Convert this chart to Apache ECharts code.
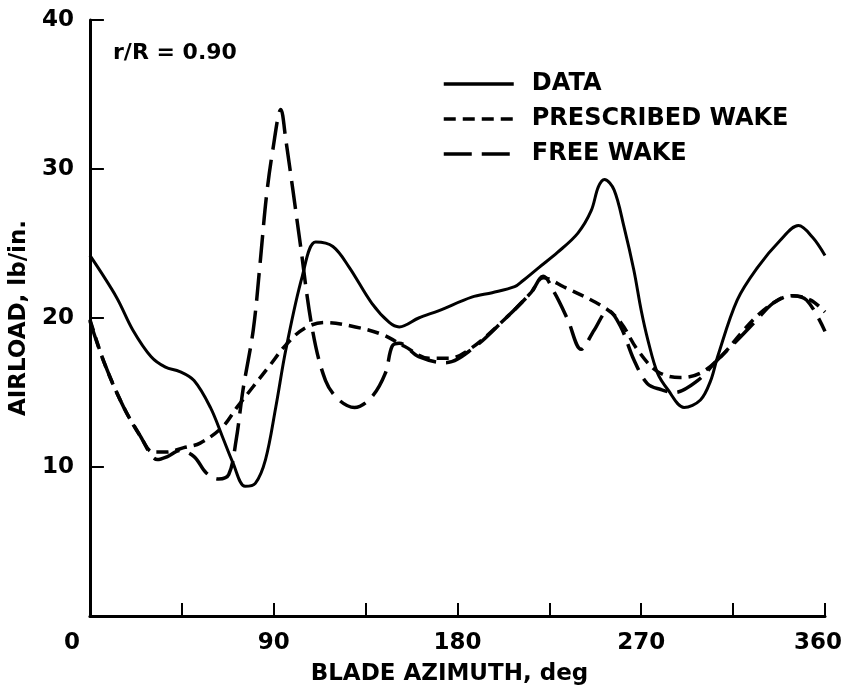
<!DOCTYPE html>
<html>
<head>
<meta charset="utf-8">
<script src="https://cdn.jsdelivr.net/npm/echarts@6/dist/echarts.min.js"></script>
<style>
html,body{margin:0;padding:0;background:#fff;}
#chart{width:845px;height:692px;}
</style>
</head>
<body>
<div id="chart"></div>
<script>
// Tick labels
var xTicks = [0, 90, 180, 270, 360];
var yTicks = [10, 20, 30, 40];

// DATA (measured)
var dataAz   = [0, 13, 21, 30, 37, 44, 51, 59, 65, 70, 76, 81, 86, 91, 96, 104, 110.6, 119, 127, 138, 146.6, 151.5, 161, 171, 187, 197, 208, 212, 220, 229, 239, 245.5, 249, 252, 256.7, 261.6, 266.4, 270, 273.3, 278, 283, 291, 299, 304, 307.4, 317, 327, 338, 347, 354, 360];
var dataLoad = [24.2, 21.4, 19.2, 17.4, 16.7, 16.4, 15.8, 14.0, 12.0, 10.3, 8.7, 8.9, 10.5, 14.0, 17.9, 22.8, 25.1, 24.8, 23.4, 21.0, 19.7, 19.4, 20.0, 20.5, 21.4, 21.7, 22.1, 22.5, 23.4, 24.4, 25.7, 27.2, 28.8, 29.3, 28.6, 26.1, 23.2, 20.5, 18.5, 16.3, 15.2, 14.0, 14.5, 15.8, 17.4, 21.2, 23.4, 25.2, 26.2, 25.4, 24.2];

// PRESCRIBED WAKE (measured)
var prescAz   = [0, 7, 16.6, 25, 31, 37.5, 46, 54, 65, 72, 80, 88, 96, 105, 115, 130, 143, 154, 166, 176, 187, 203, 216, 222, 232, 252, 260, 268, 278, 289, 299, 309, 319, 328, 337, 344, 353, 360];
var prescLoad = [19.9, 17.0, 14.0, 12.0, 11.0, 11.0, 11.3, 11.6, 12.7, 14.0, 15.4, 16.8, 18.2, 19.3, 19.7, 19.4, 18.9, 18.1, 17.3, 17.3, 18.0, 19.9, 21.7, 22.7, 22.1, 20.7, 19.7, 17.9, 16.4, 16.0, 16.3, 17.4, 19.0, 20.3, 21.2, 21.5, 21.2, 20.4];

// FREE WAKE (measured)
var freeAz   = [0, 7, 16.6, 25, 30, 33, 38, 44, 51, 57, 63, 68, 71.6, 75, 80, 83.3, 86.4, 89.6, 93.5, 96, 99.4, 102.8, 109, 115.4, 122, 129.6, 138, 144.7, 148, 151.5, 161, 174, 187, 203, 216, 222, 227.5, 234, 240.6, 247, 253.8, 260, 266.4, 273, 279.6, 286, 297.6, 307.4, 317, 326.8, 334.6, 343, 351, 360];
var freeLoad = [19.8, 17.0, 14.0, 12.0, 10.8, 10.5, 10.7, 11.1, 10.7, 9.6, 9.2, 9.5, 11.8, 15.2, 19.2, 23.6, 28.1, 31.3, 34.0, 31.9, 28.6, 25.2, 19.2, 15.8, 14.5, 14.0, 14.7, 16.3, 18.1, 18.3, 17.4, 17.0, 17.9, 19.9, 21.7, 22.8, 21.7, 19.9, 17.9, 19.2, 20.5, 19.4, 17.2, 15.6, 15.2, 15.0, 15.8, 17.2, 18.5, 19.9, 21.0, 21.5, 21.2, 19.1];

function zip(a, b) { return a.map(function (v, i) { return [v, b[i]]; }); }

var FONT = 'DejaVu Sans';
var chart = echarts.init(document.getElementById('chart'), null, {renderer: 'canvas'});
chart.setOption({
  animation: false,
  backgroundColor: '#fff',
  grid: {left: 86, right: 20, top: 20, bottom: 76, containLabel: false},
  xAxis: {
    type: 'value', min: 0, max: 360, interval: 45,
    name: 'BLADE AZIMUTH, deg', nameLocation: 'middle', nameGap: 47,
    nameTextStyle: {fontFamily: FONT, fontWeight: 'bold', fontSize: 23, color: '#000', padding: [0, 16, 0, 0]},
    axisLine: {show: true, lineStyle: {color: '#000', width: 3}},
    axisTick: {show: true, inside: true, length: 13, lineStyle: {color: '#000', width: 2}},
    splitLine: {show: false},
    axisLabel: {
      margin: 16, color: '#000', fontFamily: FONT, fontWeight: 'bold', fontSize: 23,
      formatter: function (v) {
        if (xTicks.indexOf(v) < 0) return '';
        if (v === 0) return '{z|0}';
        if (v === 360) return '{e|360}';
        return String(v);
      },
      rich: {
        z: {fontFamily: FONT, fontWeight: 'bold', fontSize: 23, color: '#000', padding: [0, 36, 0, 0]},
        e: {fontFamily: FONT, fontWeight: 'bold', fontSize: 23, color: '#000', padding: [0, 14, 0, 0]}
      }
    }
  },
  yAxis: {
    type: 'value', min: 0, max: 40, interval: 10,
    name: 'AIRLOAD, lb/in.', nameLocation: 'middle', nameGap: 48,
    nameTextStyle: {fontFamily: FONT, fontWeight: 'bold', fontSize: 23, color: '#000'},
    axisLine: {show: true, lineStyle: {color: '#000', width: 3}},
    axisTick: {show: true, inside: true, length: 14, lineStyle: {color: '#000', width: 2}},
    splitLine: {show: false},
    axisLabel: {
      margin: 16, color: '#000', fontFamily: FONT, fontWeight: 'bold', fontSize: 23,
      padding: [5, 0, 0, 0],
      formatter: function (v) { return yTicks.indexOf(v) >= 0 ? String(v) : ''; }
    }
  },
  legend: {
    orient: 'vertical', left: 442, top: 72, padding: 0,
    itemWidth: 70, itemHeight: 24, itemGap: 11,
    itemStyle: {opacity: 0},
    lineStyle: {width: 3.5},
    textStyle: {fontFamily: FONT, fontWeight: 'bold', fontSize: 24, color: '#000', padding: [0, 0, 0, 13]},
    data: ['DATA', 'PRESCRIBED WAKE', 'FREE WAKE']
  },
  graphic: [{
    type: 'text', left: 113, top: 42,
    style: {text: 'r/R = 0.90', fontFamily: FONT, fontWeight: 'bold', fontSize: 22, fill: '#000'}
  }],
  series: [
    {name: 'DATA', type: 'line', smooth: 0.35, symbol: 'none', data: zip(dataAz, dataLoad),
     lineStyle: {color: '#000', width: 3, type: 'solid'}, itemStyle: {color: '#000'}},
    {name: 'PRESCRIBED WAKE', type: 'line', smooth: 0.35, symbol: 'none', data: zip(prescAz, prescLoad),
     lineStyle: {color: '#000', width: 3.5, type: [12, 7]}, itemStyle: {color: '#000'}},
    {name: 'FREE WAKE', type: 'line', smooth: 0.35, symbol: 'none', data: zip(freeAz, freeLoad),
     lineStyle: {color: '#000', width: 3.5, type: [28, 10]}, itemStyle: {color: '#000'}}
  ]
});
</script>
</body>
</html>
